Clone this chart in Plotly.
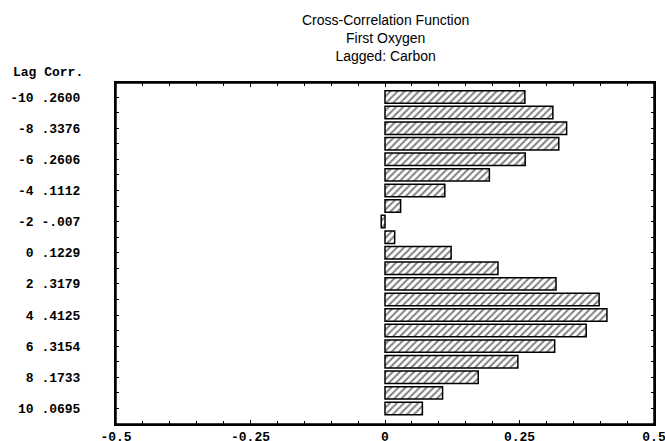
import plotly.graph_objects as go

lags = list(range(-10, 11))
corr = [0.2600, 0.312, 0.3376, 0.323, 0.2606, 0.194, 0.1112, 0.029, -0.007, 0.018,
        0.1229, 0.210, 0.3179, 0.398, 0.4125, 0.374, 0.3154, 0.247, 0.1733, 0.107, 0.0695]
label_text = {-10: ".2600", -8: ".3376", -6: ".2606", -4: ".1112", -2: "-.007",
              0: ".1229", 2: ".3179", 4: ".4125", 6: ".3154", 8: ".1733", 10: ".0695"}
x_ticks = [-0.5, -0.25, 0, 0.25, 0.5]
x_ticktext = ["-0.5", "-0.25", "0", "0.25", "0.5"]

mono = "Liberation Mono"
even = [l for l in lags if l % 2 == 0]
pad = "\u00a0" * 4

fig = go.Figure(go.Bar(
    x=corr, y=lags, orientation="h",
    marker=dict(color="white", line=dict(color="black", width=1.5),
                pattern=dict(shape="/", fgcolor="black", bgcolor="white", size=5, solidity=0.4)),
    width=0.8,
))

fig.update_layout(
    width=665, height=441,
    margin=dict(l=116, r=11, t=83, b=17, autoexpand=False),
    plot_bgcolor="white", paper_bgcolor="white",
    showlegend=False,
    annotations=[
        dict(text="Cross-Correlation Function<br>First Oxygen<br>Lagged: Carbon",
             xref="paper", yref="paper", x=0.5, y=1, yshift=17, xanchor="center", yanchor="bottom",
             showarrow=False, font=dict(family="Liberation Sans", size=14, color="black")),
        dict(text="<b>Lag Corr.</b>", xref="paper", yref="paper", x=0, xshift=-31, y=1, yshift=1,
             xanchor="right", yanchor="bottom", showarrow=False,
             font=dict(family=mono, size=13, color="black")),
    ],
    shapes=[dict(type="rect", xref="paper", yref="paper", x0=0, x1=1, y0=0, y1=1,
                 line=dict(color="black", width=1.5), layer="above")],
)
fig.update_xaxes(
    range=[-0.5, 0.5], tickvals=x_ticks, ticktext=["<b>%s</b>" % t for t in x_ticktext],
    ticks="inside", ticklen=4, tickcolor="black", showline=True, linecolor="black", linewidth=1.5,
    mirror="allticks", showgrid=False, zeroline=False, ticklabeloverflow="allow",
    tickfont=dict(family=mono, size=13, color="black"),
    minor=dict(dtick=0.05, ticks="inside", ticklen=3, tickcolor="black", showgrid=False),
)
fig.update_yaxes(
    range=[11.0, -10.9], tickvals=even,
    ticktext=["<b>%d %s</b>%s" % (l, label_text[l], pad) for l in even],
    ticks="inside", ticklen=3, tickcolor="black", showline=True, linecolor="black", linewidth=1.5,
    mirror="allticks", showgrid=False, zeroline=False, ticklabeloverflow="allow",
    tickfont=dict(family=mono, size=13, color="black"),
    minor=dict(dtick=1, ticks="inside", ticklen=3, tickcolor="black", showgrid=False),
)

fig.write_html(
    "out.html",
    config={"displayModeBar": False},
    post_script=("document.body.style.margin='0';"
                 "document.body.style.overflow='hidden';"
                 "document.documentElement.style.overflow='hidden';"),
)
